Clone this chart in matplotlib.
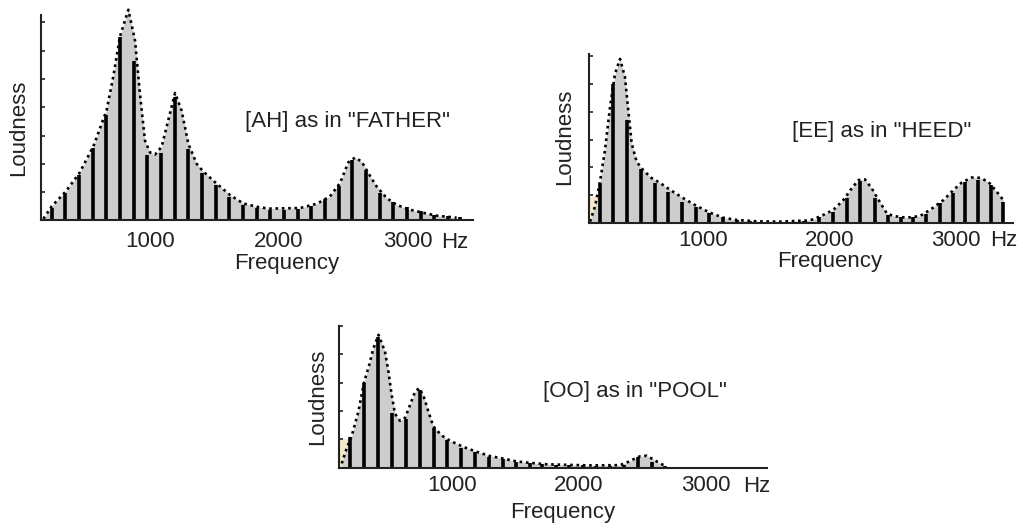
import matplotlib
matplotlib.use("Agg")
import matplotlib.pyplot as plt

plt.rcParams["font.family"] = ["Liberation Sans", "DejaVu Sans"]

# --- [AH] as in "FATHER" ---
AH_HARMONIC_HZ = [238, 344, 450, 556, 662, 767, 874, 980, 1086, 1191, 1298,
                  1404, 1509, 1616, 1722, 1827, 1933, 2040, 2146, 2251, 2357,
                  2464, 2569, 2675, 2781, 2887, 2993, 3099, 3205, 3311, 3405]
AH_HARMONIC_LEVEL = [0.45, 0.97, 1.62, 2.55, 3.71, 6.48, 5.62, 2.33, 2.38, 4.36,
                     2.51, 1.67, 1.26, 0.82, 0.55, 0.45, 0.38, 0.38, 0.41, 0.52,
                     0.76, 1.23, 2.12, 1.79, 0.97, 0.64, 0.47, 0.32, 0.2, 0.17,
                     0.12]
AH_ENVELOPE_HZ = [173, 238, 346, 452, 561, 664, 716, 767, 832, 884, 922, 961,
                  1000, 1039, 1090, 1142, 1194, 1245, 1297, 1362, 1413, 1517,
                  1620, 1723, 1853, 1930, 2163, 2292, 2395, 2473, 2537, 2589,
                  2641, 2693, 2757, 2835, 2912, 3016, 3119, 3222, 3377]
AH_ENVELOPE_LEVEL = [0.06, 0.5, 1.02, 1.67, 2.62, 3.9, 5.1, 6.5, 7.44, 6.35,
                     4.47, 2.82, 2.4, 2.33, 2.6, 3.55, 4.5, 3.88, 2.71, 2.0,
                     1.73, 1.3, 0.9, 0.6, 0.46, 0.42, 0.44, 0.59, 0.85, 1.32,
                     2.05, 2.22, 2.08, 1.67, 1.2, 0.79, 0.55, 0.38, 0.27, 0.17,
                     0.1]

# --- [EE] as in "HEED" ---
EE_HARMONIC_HZ = [186, 292, 399, 510, 621, 726, 834, 945, 1050, 1158, 1265,
                  1372, 1478, 1585, 1692, 1798, 1919, 2025, 2136, 2241, 2360,
                  2460, 2563, 2662, 2763, 2874, 2974, 3071, 3176, 3277, 3374]
EE_HARMONIC_LEVEL = [1.45, 5.0, 3.71, 1.96, 1.43, 1.13, 0.77, 0.6, 0.36, 0.24,
                     0.12, 0.08, 0.06, 0.06, 0.06, 0.1, 0.24, 0.42, 0.92, 1.52,
                     0.89, 0.3, 0.24, 0.24, 0.32, 0.74, 1.07, 1.49, 1.55, 1.37,
                     0.77]
EE_ENVELOPE_HZ = [107, 146, 186, 225, 265, 304, 344, 383, 409, 436, 476, 528,
                  594, 660, 739, 844, 950, 1055, 1160, 1266, 1425, 1609, 1714,
                  1820, 1872, 1951, 2030, 2109, 2175, 2228, 2281, 2334, 2373,
                  2413, 2452, 2504, 2610, 2715, 2794, 2900, 2979, 3045, 3124,
                  3190, 3255, 3322, 3374]
EE_ENVELOPE_LEVEL = [0.06, 0.6, 1.5, 2.62, 4.17, 5.36, 5.89, 5.24, 4.05, 2.86,
                     2.2, 1.9, 1.62, 1.45, 1.2, 0.9, 0.62, 0.38, 0.2, 0.12,
                     0.07, 0.06, 0.08, 0.1, 0.14, 0.3, 0.48, 0.83, 1.25, 1.55,
                     1.57, 1.25, 0.95, 0.65, 0.36, 0.26, 0.2, 0.26, 0.48, 0.83,
                     1.19, 1.46, 1.64, 1.63, 1.49, 1.13, 0.83]

# --- [OO] as in "POOL" ---
OO_HARMONIC_HZ = [190, 300, 411, 522, 632, 739, 850, 957, 1067, 1178, 1289,
                  1395, 1502, 1613, 1708, 1814, 1921, 2032, 2138, 2245, 2356,
                  2466, 2573, 2680]
OO_HARMONIC_LEVEL = [1.09, 2.98, 4.62, 1.92, 1.71, 2.74, 1.39, 0.98, 0.71,
                     0.56, 0.39, 0.31, 0.21, 0.18, 0.13, 0.11, 0.09, 0.08,
                     0.07, 0.07, 0.1, 0.39, 0.21, 0.06]
OO_ENVELOPE_HZ = [124, 163, 203, 256, 300, 340, 374, 415, 466, 493, 519, 545,
                  585, 625, 664, 704, 735, 769, 809, 848, 915, 980, 1086, 1191,
                  1296, 1402, 1507, 1613, 1745, 1900, 2100, 2324, 2377, 2417,
                  2482, 2535, 2588, 2640, 2693]
OO_ENVELOPE_LEVEL = [0.15, 0.68, 1.12, 1.98, 3.0, 3.6, 4.2, 4.68, 4.09, 3.39,
                     2.56, 1.9, 1.65, 1.76, 2.21, 2.68, 2.8, 2.55, 1.98, 1.45,
                     1.13, 0.95, 0.73, 0.56, 0.41, 0.32, 0.22, 0.17, 0.12, 0.1,
                     0.08, 0.09, 0.18, 0.27, 0.4, 0.42, 0.29, 0.15, 0.04]

FREQ_TICKS = [1000, 2000, 3000]
FREQ_TICK_LABELS = ["1000", "2000", "3000"]

INK = "#222222"
FILL = "#cdcdcd"
FS = 16

# panel layout: axes rect, xlim, ylim, y-spine top, y ticks, tick pad,
# and text spots in axes fractions
PANELS = [
    dict(rect=[0.0401, 0.5832, 0.4220, 0.4074], xlim=(155, 3502), ylim=(0, 7.61),
         spine_top=7.26, yticks=range(1, 8), pad=7.6,
         title='[AH] as in "FATHER"', title_xy=(0.473, 0.435),
         ylab_xy=(-0.051, 0.429), xlab_xy=(0.570, -0.226), hz_xy=(0.959, -0.126),
         hz=AH_HARMONIC_HZ, lev=AH_HARMONIC_LEVEL,
         env_hz=AH_ENVELOPE_HZ, env_lev=AH_ENVELOPE_LEVEL, patch=None),
    dict(rect=[0.5758, 0.5779, 0.4145, 0.3465], xlim=(99, 3451), ylim=(0, 6.57),
         spine_top=6.08, yticks=range(1, 7), pad=4.6,
         title='[EE] as in "HEED"', title_xy=(0.478, 0.469),
         ylab_xy=(-0.058, 0.47), xlab_xy=(0.568, -0.240), hz_xy=(0.979, -0.123),
         hz=EE_HARMONIC_HZ, lev=EE_HARMONIC_LEVEL,
         env_hz=EE_ENVELOPE_HZ, env_lev=EE_ENVELOPE_LEVEL, patch=(160, 0.95)),
    dict(rect=[0.3317, 0.1159, 0.4178, 0.2887], xlim=(105, 3484), ylim=(0, 5.38),
         spine_top=5.0, yticks=range(1, 6), pad=5.6,
         title='[OO] as in "POOL"', title_xy=(0.477, 0.465),
         ylab_xy=(-0.050, 0.465), xlab_xy=(0.523, -0.330), hz_xy=(0.977, -0.157),
         hz=OO_HARMONIC_HZ, lev=OO_HARMONIC_LEVEL,
         env_hz=OO_ENVELOPE_HZ, env_lev=OO_ENVELOPE_LEVEL, patch=(170, 1.0)),
]


def draw_spectrum(fig, p):
    ax = fig.add_axes(p["rect"])
    ax.set_xlim(*p["xlim"])
    ax.set_ylim(*p["ylim"])

    # pale scanner tint at the lower-left corner
    if p["patch"] is not None:
        x_end, top = p["patch"]
        ax.fill_between([p["xlim"][0], x_end], 0, top, color="#f4e9c8",
                        lw=0, zorder=0)

    ax.fill_between(p["env_hz"], 0, p["env_lev"], color=FILL, lw=0, zorder=1)
    ax.vlines(p["hz"], 0, p["lev"], color="black", lw=2.6, zorder=2)
    ax.plot(p["env_hz"], p["env_lev"], color="black", lw=1.9,
            linestyle=(0, (1, 1.4)), zorder=3)

    for side in ("top", "right"):
        ax.spines[side].set_visible(False)
    for side in ("left", "bottom"):
        ax.spines[side].set_color(INK)
        ax.spines[side].set_linewidth(1.5)
        ax.spines[side].set_zorder(4)
    ax.spines["left"].set_bounds(0, p["spine_top"])

    ax.set_yticks(list(p["yticks"]))
    ax.set_yticklabels([])
    ax.tick_params(axis="y", direction="in", length=3, width=1.2, color=INK)
    ax.set_xticks(FREQ_TICKS)
    ax.set_xticklabels(FREQ_TICK_LABELS)
    ax.tick_params(axis="x", length=0, pad=p["pad"], labelsize=FS,
                   labelcolor=INK)

    ax.text(*p["hz_xy"], "Hz", transform=ax.transAxes, ha="center",
            va="baseline", fontsize=FS, color=INK)
    ax.text(*p["xlab_xy"], "Frequency", transform=ax.transAxes, ha="center",
            va="baseline", fontsize=FS, color=INK)
    ax.text(*p["ylab_xy"], "Loudness", transform=ax.transAxes, ha="center",
            va="center", rotation=90, fontsize=FS, color=INK)
    ax.text(*p["title_xy"], p["title"], transform=ax.transAxes, ha="left",
            va="baseline", fontsize=FS, color=INK)
    ax.patch.set_alpha(0)
    return ax


fig = plt.figure(figsize=(10.23, 5.29), dpi=100)
for panel in PANELS:
    draw_spectrum(fig, panel)
fig.savefig("out.png", dpi=100)
